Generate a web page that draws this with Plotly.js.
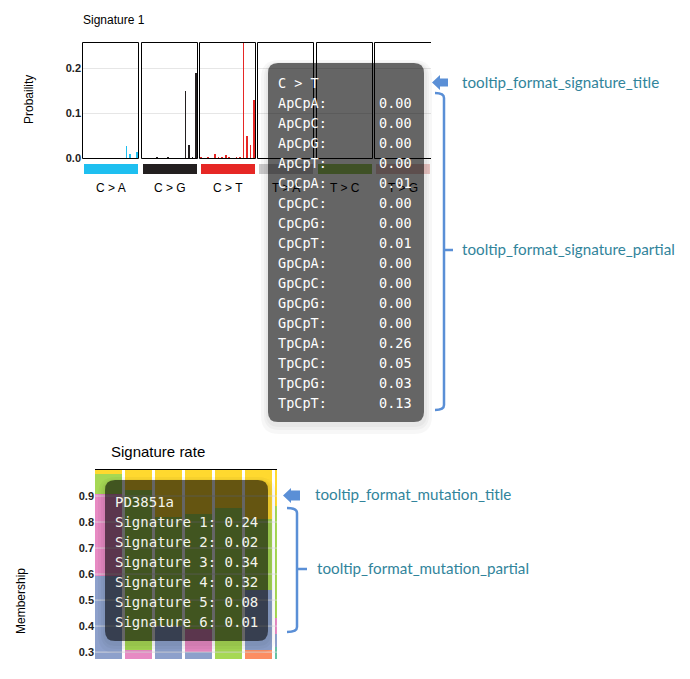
<!DOCTYPE html>
<html><head><meta charset="utf-8">
<script src="https://cdn.plot.ly/plotly-3.0.1.min.js"></script>
<style>html,body{margin:0;padding:0;background:#fff}#chart{width:690px;height:679px}</style>
</head><body><div id="chart"></div>
<script>
// ---------------- data ----------------
const contexts = ['ApCpA','ApCpC','ApCpG','ApCpT','CpCpA','CpCpC','CpCpG','CpCpT','GpCpA','GpCpC','GpCpG','GpCpT','TpCpA','TpCpC','TpCpG','TpCpT'];
const mutationTypes = ['C > A','C > G','C > T','T > A','T > C','T > G'];
const mutationColors = ['#1ebff0','#231f20','#e62725','#cbcacb','#a1ce63','#edc8c5'];
const probCA = [0,0,0,0,0,0,0,0,0,0,0,0,0.026,0.010,0,0.014];
const probCG = [0,0,0,0,0.002,0,0,0.002,0,0,0,0,0.150,0.029,0.003,0.189];
const probCT = [0.002,0,0.002,0,0.008,0.002,0.003,0.006,0.003,0,0.002,0.002,0.260,0.050,0.030,0.130];
const probTA = [0,0,0,0,0,0,0,0,0,0,0,0,0,0,0,0];
const probTC = [0,0,0,0,0,0,0,0,0,0,0,0,0,0,0,0];
const probTG = [0,0,0,0,0,0,0,0,0,0,0,0,0,0,0,0];
const signatureTitle = 'Signature 1';
const probTicks = [0, 0.1, 0.2];
const probTickText = ['0.0','0.1','0.2'];
const hoveredMutation = 2; // C > T

const sampleNames = ['PD3851a','sample 2','sample 3','sample 4','sample 5','sample 6','sample 7'];
const signatureNames = ['Signature 1','Signature 2','Signature 3','Signature 4','Signature 5','Signature 6'];
const signatureColors = ['#66c2a5','#fc8d62','#8da0cb','#e78ac3','#a6d854','#ffd92f'];
const sig1 = [0.236, 0.100, 0.080, 0.050, 0.105, 0.050, 0.320];
const sig2 = [0.018, 0.010, 0.020, 0.010, 0.020, 0.260, 0.000];
const sig3 = [0.338, 0.090, 0.300, 0.240, 0.050, 0.230, 0.050];
const sig4 = [0.316, 0.110, 0.000, 0.090, 0.030, 0.000, 0.060];
const sig5 = [0.078, 0.615, 0.420, 0.440, 0.650, 0.270, 0.430];
const sig6 = [0.014, 0.075, 0.180, 0.170, 0.145, 0.190, 0.140];
const membershipTicks = [0.3,0.4,0.5,0.6,0.7,0.8,0.9];
const hoveredSample = 0;

const labelTexts = ['tooltip_format_signature_title','tooltip_format_signature_partial','tooltip_format_mutation_title','tooltip_format_mutation_partial'];

// ---------------- helpers ----------------
const W = 690, H = 679;
const px = x => x / W;
const py = y => 1 - y / H;
const FONT = 'Liberation Sans, Arial, sans-serif';
const MONO = 'DejaVu Sans Mono, monospace';

function roundRect(x0, y0, x1, y1, r) {
  return `M${px(x0+r)},${py(y0)} L${px(x1-r)},${py(y0)} Q${px(x1)},${py(y0)} ${px(x1)},${py(y0+r)} ` +
         `L${px(x1)},${py(y1-r)} Q${px(x1)},${py(y1)} ${px(x1-r)},${py(y1)} ` +
         `L${px(x0+r)},${py(y1)} Q${px(x0)},${py(y1)} ${px(x0)},${py(y1-r)} ` +
         `L${px(x0)},${py(y0+r)} Q${px(x0)},${py(y0)} ${px(x0+r)},${py(y0)} Z`;
}
function pathPx(cmds) {
  return cmds.map(c => c[0] + c.slice(1).reduce((s, v, i) => s + (i ? (i % 2 ? ',' : ' ') : '') + (i % 2 ? py(v) : px(v)), '')).join(' ');
}

const probs = [probCA, probCG, probCT, probTA, probTC, probTG];
const panelLeft = [82, 141, 199, 257, 316, 374];
const panelW = 57;
const topY0 = 42, topY1 = 158;
const botX0 = 95, botX1 = 277, botY0 = 470, botY1 = 659;

const data = [];
const layout = {
  width: W, height: H,
  margin: {l: 0, r: 0, t: 0, b: 0},
  paper_bgcolor: '#ffffff', plot_bgcolor: 'rgba(0,0,0,0)',
  showlegend: false, barmode: 'stack',
  font: {family: FONT, color: '#000'},
  shapes: [], annotations: []
};

// ---------- top chart: six panels ----------
probs.forEach((p, k) => {
  const xa = k === 0 ? 'x' : 'x' + (k + 1);
  const ya = k === 0 ? 'y' : 'y' + (k + 1);
  data.push({
    type: 'bar', x: contexts, y: p, xaxis: xa, yaxis: ya,
    width: contexts.map(() => 0.45),
    marker: {color: mutationColors[k], line: {width: 0}},
    hoverinfo: 'skip'
  });
  const xName = k === 0 ? 'xaxis' : 'xaxis' + (k + 1);
  const yName = k === 0 ? 'yaxis' : 'yaxis' + (k + 1);
  layout[xName] = {
    domain: [px(panelLeft[k]), px(panelLeft[k] + panelW)], anchor: ya,
    type: 'category', categoryarray: contexts, range: [-0.5, 15.5],
    showline: false, showticklabels: false, ticks: '', showgrid: false, zeroline: false, fixedrange: true
  };
  layout[yName] = {
    domain: [py(topY1), py(topY0)], anchor: xa, range: [0, 0.258],
    showline: false, showgrid: true, gridcolor: '#e6e6e6', gridwidth: 1, zeroline: false,
    tickvals: probTicks, ticktext: probTickText, ticks: '',
    showticklabels: k === 0,
    tickfont: {family: FONT, size: 11, color: '#222', weight: 'bold'},
    fixedrange: true
  };
  // panel frame (crisp 1px black lines)
  const L = panelLeft[k] + 0.5, R = panelLeft[k] + panelW - 0.5, T = topY0 + 0.5, B = topY1 + 0.5;
  const frame = k < 5
    ? pathPx([['M', L, B], ['L', L, T], ['L', R, T], ['L', R, B], ['L', L, B]])
    : pathPx([['M', R + 0.5, B], ['L', L, B], ['L', L, T], ['L', R + 0.5, T]]);
  layout.shapes.push({type: 'path', xref: 'paper', yref: 'paper', layer: 'above', path: frame,
    fillcolor: 'rgba(0,0,0,0)', line: {color: '#000', width: 1}});
  // colour strip under the panel
  layout.shapes.push({
    type: 'rect', xref: 'paper', yref: 'paper', layer: 'above',
    x0: px(panelLeft[k] + 2), x1: px(panelLeft[k] + panelW - 1),
    y0: py(174), y1: py(164),
    fillcolor: mutationColors[k], line: {width: 0}
  });
  layout.annotations.push({
    xref: 'paper', yref: 'paper', x: px(panelLeft[k] + panelW / 2), y: py(188),
    xanchor: 'center', yanchor: 'middle', showarrow: false,
    text: mutationTypes[k], font: {family: FONT, size: 12, color: '#000'}
  });
});

layout.annotations.push({
  xref: 'paper', yref: 'paper', x: px(81), y: py(20), xanchor: 'left', yanchor: 'middle',
  showarrow: false, text: signatureTitle, font: {family: FONT, size: 12, color: '#000'}
});
layout.annotations.push({
  xref: 'paper', yref: 'paper', x: px(29), y: py(100), xanchor: 'center', yanchor: 'middle',
  showarrow: false, textangle: -90, text: 'Probaility', font: {family: FONT, size: 12, color: '#000'}
});

// ---------- bottom chart: stacked membership ----------
const sigs = [sig1, sig2, sig3, sig4, sig5, sig6];
sigs.forEach((s, i) => {
  data.push({
    type: 'bar', x: sampleNames, y: s, xaxis: 'x7', yaxis: 'y7', name: signatureNames[i],
    width: sampleNames.map(() => 0.9),
    marker: {color: signatureColors[i], line: {width: 0}}, hoverinfo: 'skip'
  });
});
layout.xaxis7 = {
  domain: [px(botX0), px(botX1)], anchor: 'y7', side: 'top',
  type: 'category', categoryarray: sampleNames, range: [-0.45, 5.617],
  showline: true, linecolor: '#000', linewidth: 1.5, showticklabels: false, ticks: '',
  showgrid: false, zeroline: false, fixedrange: true
};
layout.yaxis7 = {
  domain: [py(botY1), py(botY0)], anchor: 'x7', range: [0.2735, 1.0],
  tickvals: membershipTicks, ticktext: membershipTicks.map(v => v.toFixed(1)), ticks: '',
  showgrid: false, zeroline: false, showline: false,
  tickfont: {family: FONT, size: 11, color: '#222', weight: 'bold'}, fixedrange: true
};
membershipTicks.forEach(t => {
  layout.shapes.push({
    type: 'line', xref: 'x7 domain', yref: 'y7', x0: 0, x1: 1, y0: t, y1: t, layer: 'above',
    line: {color: 'rgba(225,225,225,0.75)', width: 1}
  });
});
layout.annotations.push({
  xref: 'paper', yref: 'paper', x: px(158), y: py(451), xanchor: 'center', yanchor: 'middle',
  showarrow: false, text: 'Signature rate', font: {family: FONT, size: 15, color: '#000'}
});
layout.annotations.push({
  xref: 'paper', yref: 'paper', x: px(21), y: py(601), xanchor: 'center', yanchor: 'middle',
  showarrow: false, textangle: -90, text: 'Membership', font: {family: FONT, size: 12, color: '#000'}
});

// ---------- tooltips ----------
function tooltip(x0, y0, x1, y1, r) {
  [[8, 4], [5, 3], [3, 2]].forEach(([g, off]) => {
    layout.shapes.push({type: 'path', xref: 'paper', yref: 'paper', layer: 'above',
      path: roundRect(x0 - g + 1, y0 - g + off + 1, x1 + g, y1 + g + off, r + g),
      fillcolor: 'rgba(0,0,0,0.03)', line: {width: 0}});
  });
  layout.shapes.push({type: 'path', xref: 'paper', yref: 'paper', layer: 'above',
    path: roundRect(x0, y0, x1, y1, r), fillcolor: 'rgba(0,0,0,0.565)', line: {width: 0}});
}
tooltip(268, 63, 424, 422, 10);
tooltip(105, 480, 268, 641, 10);

function tipText(x, y, text, anchor, size, color) {
  layout.annotations.push({xref: 'paper', yref: 'paper', x: px(x), y: py(y), xanchor: anchor, yanchor: 'middle',
    showarrow: false, text: text, borderpad: 0, font: {family: MONO, size: size, color: color}});
}
tipText(277, 83, mutationTypes[hoveredMutation].replace(/ /g, '&nbsp;'), 'left', 13.5, '#ffffff');
contexts.forEach((c, i) => {
  tipText(277, 103 + i * 20, c + ':', 'left', 13.5, '#ffffff');
  tipText(413, 103 + i * 20, probs[hoveredMutation][i].toFixed(2), 'right', 13.5, '#ffffff');
});
tipText(114, 501.5, sampleNames[hoveredSample], 'left', 14, '#f4f4ec');
signatureNames.forEach((n, i) => {
  tipText(114, 521.5 + i * 20, n + ':&nbsp;' + sigs[i][hoveredSample].toFixed(2), 'left', 14, '#f4f4ec');
});

// ---------- call-out arrows, brackets, labels ----------
const BLUE = '#5a8fd6', TEAL = '#31849b';
function arrow(tipX, cy, headW, headH, bodyEnd, bodyH) {
  layout.shapes.push({type: 'path', xref: 'paper', yref: 'paper', layer: 'above',
    path: pathPx([['M', tipX, cy], ['L', tipX + headW, cy - headH], ['L', tipX + headW, cy - bodyH], ['L', bodyEnd, cy - bodyH],
                  ['L', bodyEnd, cy + bodyH], ['L', tipX + headW, cy + bodyH], ['L', tipX + headW, cy + headH]]) + ' Z',
    fillcolor: BLUE, line: {width: 0}});
}
function bracket(xv, yTop, yBot, yMid, hookX, tickX) {
  layout.shapes.push({type: 'path', xref: 'paper', yref: 'paper', layer: 'above',
    path: pathPx([['M', hookX, yTop], ['Q', xv, yTop, xv, yTop + 5], ['L', xv, yBot - 5], ['Q', xv, yBot, hookX, yBot],
                  ['M', xv, yMid], ['L', tickX, yMid]]),
    fillcolor: 'rgba(0,0,0,0)', line: {color: BLUE, width: 2.5}});
}
arrow(432, 82.5, 8, 7.5, 448, 4);
bracket(444, 93, 410, 250, 435, 453);
arrow(283, 495.5, 8, 7.5, 300, 5);
bracket(297, 508, 632, 569, 287, 307);

function calloutLabel(x, y, text) {
  layout.annotations.push({xref: 'paper', yref: 'paper', x: px(x), y: py(y), xanchor: 'left', yanchor: 'middle',
    showarrow: false, text: text, borderpad: 0, font: {family: 'Lato, sans-serif', size: 15.2, color: TEAL}});
}
calloutLabel(461, 82, labelTexts[0]);
calloutLabel(461, 249, labelTexts[1]);
calloutLabel(314, 494, labelTexts[2]);
calloutLabel(316, 568, labelTexts[3]);

Plotly.newPlot('chart', data, layout, {staticPlot: true, displayModeBar: false});
</script>
</body></html>
